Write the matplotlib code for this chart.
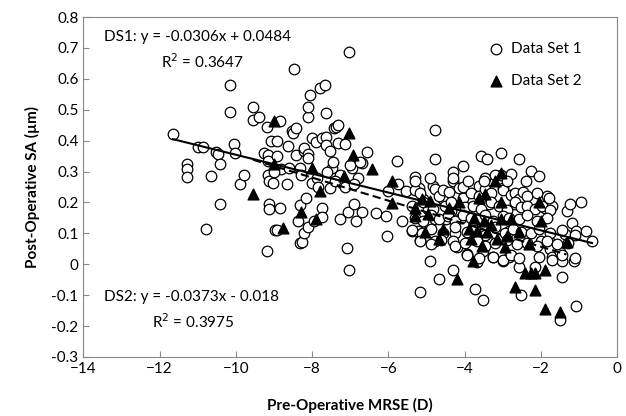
import matplotlib
matplotlib.use("Agg")
import matplotlib.pyplot as plt
import numpy as np

plt.rcParams['font.family'] = ['Lato', 'DejaVu Sans']

# Data Set 1 (open circles)
ds1_x = [
    -11.65, -11.29, -11.29, -11.29, -10.98, -10.87, -10.77, -10.66, -10.51, -10.47,
    -10.41, -10.41, -10.16, -10.16, -10.05, -10.02, -9.89, -9.78, -9.55, -9.55,
    -9.40, -9.27, -9.17, -9.16, -9.16, -9.15, -9.12, -9.14, -9.14, -9.19,
    -9.08, -9.03, -8.93, -8.93, -8.96, -8.92, -8.84, -8.82, -8.84, -8.67,
    -8.64, -8.53, -8.50, -8.48, -8.41, -8.41, -8.32, -8.32, -8.36, -8.32,
    -8.26, -8.22, -8.22, -8.20, -8.12, -8.12, -8.12, -8.10, -8.15, -8.12,
    -8.05, -8.01, -8.01, -7.95, -7.90, -7.87, -7.78, -7.73, -7.66, -7.63,
    -7.63, -7.73, -7.73, -7.63, -7.52, -7.49, -7.52, -7.42, -7.38, -7.32,
    -7.32, -7.28, -7.26, -7.21, -7.03, -7.08, -7.03, -7.06, -6.95, -6.90,
    -6.85, -6.80, -6.69, -6.69, -6.56, -6.33, -6.05, -6.04, -6.01, -5.78,
    -5.75, -5.65, -5.55,
    -7.60, -7.40, -7.15, -7.00, -6.75, -7.85, -7.45, -7.15, -6.90, -8.30,
    -8.60, -9.00,
    -5.39, -5.23, -5.29, -5.20, -5.18, -5.16, -5.08, -4.97, -4.92, -4.82,
    -4.77, -4.77, -4.77, -4.77, -4.66, -4.56, -4.50, -4.35, -4.30, -4.30,
    -4.30, -4.25, -4.30, -4.14, -4.04, -4.04, -4.09, -4.19, -3.93, -3.73,
    -3.67, -3.62, -3.57, -3.52, -3.52, -3.46, -3.41, -3.36, -3.26, -3.04,
    -3.04, -3.00, -3.00, -2.84, -2.84, -2.79, -2.68, -2.58, -2.53, -2.58,
    -2.48, -2.27, -2.22, -2.16, -2.06, -2.01, -1.90, -1.85, -1.80, -1.75,
    -1.70, -1.70, -1.49, -1.44, -1.44, -1.38, -1.33, -1.23, -1.18, -1.14,
    -1.07, -1.07, -0.94, -0.81, -0.66, -1.50,
    # dense cluster
    -5.29, -5.18, -4.77, -4.66, -4.56, -4.40, -4.04, -3.83, -3.62, -3.47,
    -3.31, -3.00, -2.79, -2.68, -2.58, -2.48, -2.37, -2.11, -1.80,
    -5.39, -5.08, -4.82, -4.51, -4.35, -3.99, -3.78, -3.57, -3.31, -3.10,
    -2.89, -2.68, -2.53, -2.37, -2.16, -1.96, -1.75,
    -5.29, -5.08, -4.87, -4.66, -4.45, -4.25, -4.04, -3.83, -3.62, -3.47,
    -3.26, -3.00, -2.84, -2.58, -2.37, -2.11, -1.85,
    -5.39, -5.13, -4.87, -4.56, -4.25, -3.93, -3.73, -3.47, -3.20, -2.94,
    -2.74, -2.53, -2.27, -2.06, -1.75, -1.44, -1.12,
    -5.18, -4.87, -4.61, -4.25, -3.99, -3.67, -3.47, -3.20, -2.89, -2.63,
    -2.37, -2.11, -1.85, -1.59, -1.28,
    -3.93, -3.62, -3.26, -3.00, -2.79, -2.58, -2.06, -1.70, -1.44, -1.12,
    -5.30, -4.90, -4.30, -3.90, -3.50, -3.20, -2.90, -2.40,
]
ds1_y = [
    0.420, 0.326, 0.307, 0.283, 0.379, 0.379, 0.114, 0.285, 0.363, 0.358,
    0.323, 0.196, 0.580, 0.494, 0.389, 0.360, 0.260, 0.290, 0.510, 0.467,
    0.478, 0.360, 0.443, 0.355, 0.333, 0.290, 0.269, 0.194, 0.178, 0.042,
    0.398, 0.264, 0.350, 0.398, 0.110, 0.112, 0.462, 0.307, 0.183, 0.260,
    0.382, 0.430, 0.424, 0.633, 0.440, 0.355, 0.312, 0.192, 0.140, 0.070,
    0.072, 0.367, 0.376, 0.100, 0.478, 0.510, 0.357, 0.344, 0.215, 0.119,
    0.548, 0.408, 0.264, 0.140, 0.397, 0.280, 0.570, 0.408, 0.580, 0.489,
    0.413, 0.183, 0.153, 0.387, 0.365, 0.312, 0.248, 0.440, 0.445, 0.450,
    0.392, 0.148, 0.290, 0.264, 0.687, 0.052, -0.018, 0.170, 0.312, 0.194,
    0.140, 0.280, 0.328, 0.170, 0.363, 0.167, 0.156, 0.090, 0.237, 0.333,
    0.260, 0.140, 0.237,
    0.300, 0.270, 0.250, 0.320, 0.330, 0.250, 0.330, 0.390, 0.260, 0.290,
    0.310, 0.300,
    0.108, 0.108, 0.283, 0.248, 0.080, -0.090, 0.210, 0.178, 0.012, 0.253,
    0.435, 0.339, 0.146, 0.076, -0.047, 0.210, 0.146, 0.172, 0.300, 0.268,
    -0.020, 0.100, 0.076, 0.248, 0.317, 0.215, 0.150, 0.055, 0.033, -0.079,
    0.006, 0.253, 0.349, -0.117, 0.044, 0.280, 0.339, 0.194, 0.022, 0.360,
    0.290, 0.248, 0.012, 0.108, 0.022, 0.293, 0.194, 0.339, -0.100, -0.010,
    0.215, 0.301, 0.205, -0.010, 0.285, 0.076, 0.183, 0.220, 0.076, 0.049,
    0.189, 0.022, 0.038, 0.012, -0.042, 0.098, 0.172, 0.194, 0.135, 0.012,
    -0.136, 0.108, 0.200, 0.108, 0.076, -0.180,
    0.240, 0.230, 0.245, 0.220, 0.240, 0.235, 0.250, 0.230, 0.220, 0.245,
    0.230, 0.240, 0.225, 0.230, 0.210, 0.235, 0.220, 0.230, 0.215,
    0.190, 0.200, 0.180, 0.190, 0.200, 0.185, 0.190, 0.180, 0.200, 0.190,
    0.175, 0.200, 0.185, 0.190, 0.180, 0.190, 0.175,
    0.150, 0.140, 0.160, 0.145, 0.155, 0.140, 0.160, 0.150, 0.145, 0.160,
    0.140, 0.155, 0.150, 0.145, 0.160, 0.140, 0.150,
    0.110, 0.100, 0.115, 0.100, 0.120, 0.105, 0.110, 0.095, 0.120, 0.100,
    0.115, 0.105, 0.100, 0.115, 0.100, 0.110, 0.095,
    0.075, 0.065, 0.080, 0.060, 0.070, 0.075, 0.060, 0.070, 0.080, 0.065,
    0.070, 0.060, 0.075, 0.065, 0.070,
    0.030, 0.020, 0.025, 0.015, 0.030, 0.020, 0.025, 0.015, 0.030, 0.020,
    0.270, 0.280, 0.280, 0.270, 0.270, 0.290, 0.270, 0.270,
]

# Data Set 2 (filled triangles)
ds2_x = [
    -9.00, -9.00, -9.55, -8.77, -8.30, -8.01, -7.89, -7.78, -7.16, -7.02,
    -6.92, -6.43, -5.91, -5.91, -5.29, -5.29, -5.13, -5.03, -4.92, -4.97,
    -4.66, -4.56, -4.40, -4.19, -4.14, -3.88, -3.83, -3.78, -3.67, -3.62,
    -3.46, -3.41, -3.31, -3.20, -3.15, -3.04, -3.04, -3.04, -2.94, -2.79,
    -2.68, -2.58, -2.42, -2.27, -2.16, -2.32, -2.16, -2.06, -2.01, -1.90,
    -1.90, -1.50, -1.33, -3.75, -3.50, -2.90, -3.55,
]
ds2_y = [
    0.462, 0.323, 0.228, 0.116, 0.170, 0.312, 0.146, 0.237, 0.285, 0.424,
    0.355, 0.307, 0.269, 0.199, 0.183, 0.156, 0.210, 0.103, 0.205, 0.162,
    0.081, 0.114, 0.183, -0.047, 0.200, 0.114, 0.081, 0.012, 0.108, 0.215,
    0.226, 0.103, 0.127, 0.269, 0.081, 0.296, 0.200, 0.146, 0.055, 0.146,
    -0.074, 0.103, -0.029, -0.029, -0.029, 0.065, -0.085, 0.200, 0.140, -0.145,
    -0.020, -0.155, 0.071, 0.150, 0.140, 0.090, 0.060,
]

# trendline coefficients as printed on the chart
ds1_fit = (-0.0306, 0.0484)
ds2_fit = (-0.0373, -0.018)

fig = plt.figure(figsize=(6.26, 4.16), dpi=100)
ax = fig.add_axes([0.133, 0.142, 0.853, 0.817])

ax.scatter(ds1_x, ds1_y, s=58, facecolors='white', edgecolors='black',
           linewidths=0.9, marker='o', label='Data Set 1', zorder=2)
ax.scatter(ds2_x, ds2_y, s=60, color='black', marker='^',
           label='Data Set 2', zorder=3)

x1 = np.array([min(ds1_x), max(ds1_x)])
ax.plot(x1, ds1_fit[0] * x1 + ds1_fit[1], color='black', lw=1.5, zorder=4)
x2 = np.array([min(ds2_x), max(ds2_x)])
ax.plot(x2, ds2_fit[0] * x2 + ds2_fit[1], color='black', lw=1.5,
        ls=(0, (4, 2)), zorder=4)

ax.text(-13.45, 0.735, 'DS1: y = -0.0306x + 0.0484', fontsize=11, va='center')
ax.text(-11.95, 0.655, 'R$^2$ = 0.3647', fontsize=11, va='center')
ax.text(-13.45, -0.105, 'DS2: y = -0.0373x - 0.018', fontsize=11, va='center')
ax.text(-12.2, -0.185, 'R$^2$ = 0.3975', fontsize=11, va='center')

ax.set_xlim(-14, 0)
ax.set_ylim(-0.3, 0.8)
ax.set_xticks(np.arange(-14, 1, 2))
ax.set_yticks(np.round(np.arange(-0.3, 0.81, 0.1), 1))
ax.set_yticklabels(['-0.3', '-0.2', '-0.1', '0', '0.1', '0.2', '0.3',
                    '0.4', '0.5', '0.6', '0.7', '0.8'])
ax.tick_params(direction='in', length=4, labelsize=11, color='#888888')
for sp in ax.spines.values():
    sp.set_color('#888888')

ax.set_xlabel('Pre-Operative MRSE (D)', fontsize=11, fontweight='bold', labelpad=16)
ax.set_ylabel('Post-Operative SA (µm)', fontsize=11, fontweight='bold', labelpad=8)

ax.legend(loc='upper right', bbox_to_anchor=(0.945, 0.945), frameon=False,
          fontsize=11, handletextpad=0.0, labelspacing=1.2, borderaxespad=0)

fig.savefig('out.png', dpi=100)
